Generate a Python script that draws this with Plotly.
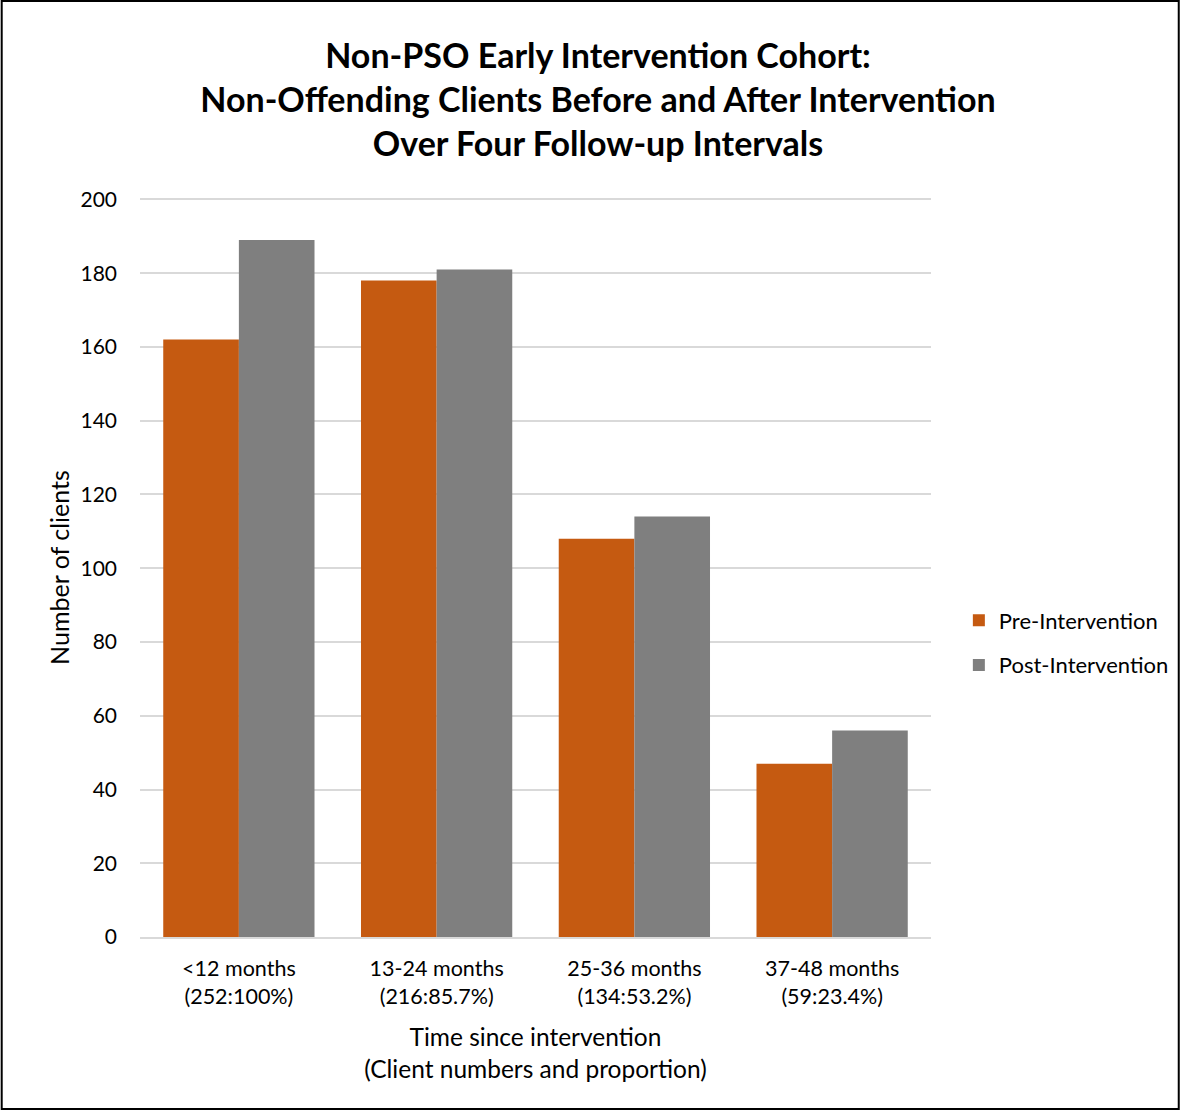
import plotly.graph_objects as go

# Follow-up intervals with client numbers and proportion retained
categories = [
    "<12 months<br>(252:100%)",
    "13-24 months<br>(216:85.7%)",
    "25-36 months<br>(134:53.2%)",
    "37-48 months<br>(59:23.4%)",
]
pre_intervention = [162, 178, 108, 47]
post_intervention = [189, 181, 114, 56]
y_ticks = [0, 20, 40, 60, 80, 100, 120, 140, 160, 180, 200]

FONT = "Lato"
W, H = 1186, 1111
L, R, T, B = 140, 251, 198, 174
pw, ph = W - L - R, H - T - B


def px_x(p):
    return (p - L) / pw


def px_y(p):
    return (H - B - p) / ph


fig = go.Figure()
fig.add_trace(go.Bar(name="Pre-Intervention", x=categories, y=pre_intervention,
                     legendgroup="pre",
                     marker=dict(color="#C55A11", line=dict(width=0))))
fig.add_trace(go.Bar(name="Post-Intervention", x=categories, y=post_intervention,
                     legendgroup="post",
                     marker=dict(color="#7F7F7F", line=dict(width=0))))

fig.update_layout(
    width=W, height=H,
    margin=dict(l=L, r=R, t=T, b=B),
    paper_bgcolor="white", plot_bgcolor="white",
    barmode="group", bargap=0.235, bargroupgap=0,
    font=dict(family=FONT, color="#000000"),
    title=dict(
        text="<b>Non-PSO Early Intervention Cohort:<br>Non-Offending Clients Before and After Intervention<br>Over Four Follow-up Intervals</b>",
        x=598 / W, xref="container", xanchor="center",
        y=1 - 68 / H, yref="container", yanchor="top",
        font=dict(family=FONT, size=34, color="#000000"),
    ),
    xaxis=dict(
        showgrid=False, showline=True, linecolor="#D9D9D9", linewidth=1.5,
        ticks="", tickfont=dict(size=21.5), ticklabelstandoff=11,
        title=dict(text="Time since intervention<br>(Client numbers and proportion)",
                   font=dict(size=24.5), standoff=21),
    ),
    yaxis=dict(
        range=[0, 200.4], tickvals=y_ticks, showgrid=True, gridcolor="#D9D9D9",
        gridwidth=1.5, zeroline=False, ticks="", tickfont=dict(size=21),
        ticklabelstandoff=22,
        title=dict(text="Number of clients", font=dict(size=25), standoff=3),
    ),
    legend=dict(
        x=px_x(963), y=px_y(643), xanchor="left", yanchor="middle",
        font=dict(size=22), itemwidth=30, tracegroupgap=13,
        bgcolor="rgba(0,0,0,0)",
    ),
    showlegend=True,
)

# Outer frame around the whole chart
fig.add_shape(type="rect", xref="paper", yref="paper",
              x0=px_x(1), x1=px_x(1184), y0=px_y(1109), y1=px_y(1),
              line=dict(color="#000000", width=2), fillcolor="rgba(0,0,0,0)",
              layer="above")

fig.write_html("out.html")
